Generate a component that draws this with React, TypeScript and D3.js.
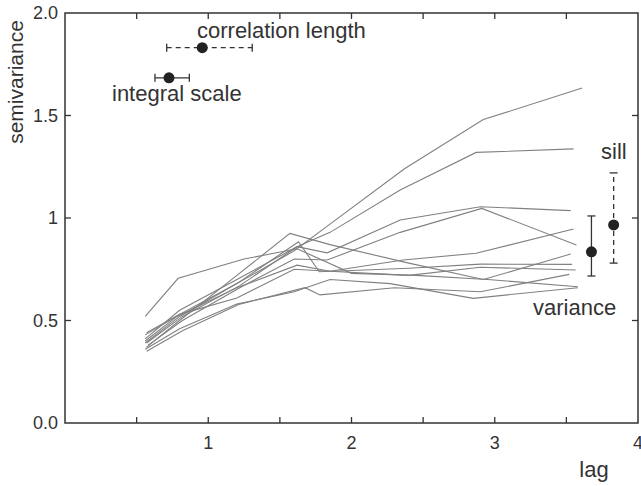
import React from "react";
import * as d3 from "d3";

// semivariogram curves, one per data set: [lag, semivariance]
const curveA = [[0.56, 0.40], [0.80, 0.53], [1.20, 0.68], [1.60, 0.84], [1.85, 0.97], [2.37, 1.24], [2.92, 1.48], [3.61, 1.634]];
const curveB = [[0.57, 0.39], [0.82, 0.52], [1.22, 0.67], [1.62, 0.86], [1.85, 0.93], [2.34, 1.137], [2.87, 1.32], [3.55, 1.337]];
const curveC = [[0.56, 0.41], [0.80, 0.55], [1.20, 0.70], [1.62, 0.86], [1.83, 0.83], [2.34, 0.99], [2.90, 1.055], [3.53, 1.036]];
const curveD = [[0.58, 0.38], [0.82, 0.50], [1.22, 0.66], [1.60, 0.80], [1.83, 0.795], [2.34, 0.93], [2.91, 1.047], [3.57, 0.868]];
const curveE = [[0.56, 0.43], [0.78, 0.52], [1.20, 0.66], [1.62, 0.77], [1.85, 0.74], [2.36, 0.795], [2.87, 0.828], [3.55, 0.946]];
const curveF = [[0.57, 0.37], [0.80, 0.50], [1.20, 0.72], [1.57, 0.925], [1.85, 0.87], [2.40, 0.78], [2.92, 0.70], [3.53, 0.824]];
const curveG = [[0.56, 0.39], [0.80, 0.52], [1.20, 0.68], [1.63, 0.884], [1.775, 0.738], [2.40, 0.755], [2.90, 0.775], [3.54, 0.774]];
const curveH = [[0.57, 0.44], [0.80, 0.53], [1.20, 0.61], [1.60, 0.75], [1.85, 0.74], [2.40, 0.72], [2.90, 0.76], [3.565, 0.746]];
const curveI = [[0.56, 0.36], [0.80, 0.46], [1.20, 0.58], [1.60, 0.64], [1.85, 0.70], [2.27, 0.68], [2.85, 0.608], [3.58, 0.66]];
const curveJ = [[0.56, 0.52], [0.79, 0.706], [1.25, 0.80], [1.62, 0.85], [2.00, 0.73], [2.45, 0.72], [2.95, 0.70], [3.58, 0.665]];
const curveK = [[0.57, 0.35], [0.82, 0.45], [1.22, 0.58], [1.675, 0.66], [1.78, 0.625], [2.30, 0.66], [2.90, 0.64], [3.52, 0.725]];
const curves = [curveA, curveB, curveC, curveD, curveE, curveF, curveG, curveH, curveI, curveJ, curveK];

// horizontal error bars: [centre, low, high, semivariance]
const correlationLength = [0.958, 0.71, 1.307, 1.831];
const integralScale = [0.726, 0.628, 0.868, 1.684];
// vertical error bars: [lag, centre, low, high]
const variance = [3.675, 0.835, 0.717, 1.01];
const sill = [3.83, 0.966, 0.78, 1.22];

const xTicks = [0.5, 1, 1.5, 2, 2.5, 3, 3.5];
const xLabels = [1, 2, 3, 4];
const yTicks = [0.5, 1, 1.5];
const yLabels = [[0, "0.0"], [0.5, "0.5"], [1, "1"], [1.5, "1.5"], [2, "2.0"]];

const W = 641, H = 486;
const font = "'Liberation Sans', Arial, sans-serif";
const ink = "#333";

export default function App() {
  const x = d3.scaleLinear().domain([0, 4]).range([65, 638]);
  const y = d3.scaleLinear().domain([0, 2]).range([423, 13]);
  const line = d3.line<number[]>().x(d => x(d[0])).y(d => y(d[1]));
  const tk = 6, cap = 4;

  const hBar = (b: number[], dashed: boolean) => (
    <g stroke={ink} strokeWidth={1.3}>
      <line x1={x(b[1])} x2={x(b[2])} y1={y(b[3])} y2={y(b[3])} strokeDasharray={dashed ? "5,4" : undefined} />
      <line x1={x(b[1])} x2={x(b[1])} y1={y(b[3]) - cap} y2={y(b[3]) + cap} />
      <line x1={x(b[2])} x2={x(b[2])} y1={y(b[3]) - cap} y2={y(b[3]) + cap} />
      <circle cx={x(b[0])} cy={y(b[3])} r={5.5} fill="#222" stroke="none" />
    </g>
  );
  const vBar = (b: number[], dashed: boolean) => (
    <g stroke={ink} strokeWidth={1.3}>
      <line x1={x(b[0])} x2={x(b[0])} y1={y(b[2])} y2={y(b[3])} strokeDasharray={dashed ? "5,4" : undefined} />
      <line x1={x(b[0]) - cap} x2={x(b[0]) + cap} y1={y(b[2])} y2={y(b[2])} />
      <line x1={x(b[0]) - cap} x2={x(b[0]) + cap} y1={y(b[3])} y2={y(b[3])} />
      <circle cx={x(b[0])} cy={y(b[1])} r={5.5} fill="#222" stroke="none" />
    </g>
  );

  return (
    <svg width={W} height={H} style={{ position: "absolute", left: 0, top: 0, background: "#fff" }} fontFamily={font}>
      {/* curves */}
      <g fill="none" stroke="#808080" strokeWidth={1.1}>
        {curves.map((c, i) => <path key={i} d={line(c) as string} />)}
      </g>

      {/* frame and ticks */}
      <rect x={x(0)} y={y(2)} width={x(4) - x(0)} height={y(0) - y(2)} fill="none" stroke={ink} strokeWidth={1.5} />
      <g stroke={ink} strokeWidth={1.3}>
        {xTicks.map(t => <line key={"b" + t} x1={x(t)} x2={x(t)} y1={y(0)} y2={y(0) - tk} />)}
        {xTicks.map(t => <line key={"t" + t} x1={x(t)} x2={x(t)} y1={y(2)} y2={y(2) + tk} />)}
        {yTicks.map(t => <line key={"l" + t} x1={x(0)} x2={x(0) + tk} y1={y(t)} y2={y(t)} />)}
        {yTicks.map(t => <line key={"r" + t} x1={x(4)} x2={x(4) - tk} y1={y(t)} y2={y(t)} />)}
      </g>
      <g fill={ink} fontSize={18}>
        {xLabels.map(t => <text key={t} x={x(t)} y={449} textAnchor="middle">{t}</text>)}
        {yLabels.map(([v, s]) => <text key={s as string} x={58} y={y(v as number) + 6} textAnchor="end">{s}</text>)}
      </g>
      <text transform="translate(23,82) rotate(-90)" textAnchor="middle" fontSize={21} fill={ink}>semivariance</text>
      <text x={594} y={477} textAnchor="middle" fontSize={22} fill={ink}>lag</text>

      {/* annotations */}
      {hBar(correlationLength, true)}
      {hBar(integralScale, false)}
      {vBar(variance, false)}
      {vBar(sill, true)}
      <g fontSize={22} fill={ink}>
        <text x={197} y={38}>correlation length</text>
        <text x={112} y={101}>integral scale</text>
        <text x={601} y={159}>sill</text>
        <text x={533} y={315}>variance</text>
      </g>
    </svg>
  );
}
